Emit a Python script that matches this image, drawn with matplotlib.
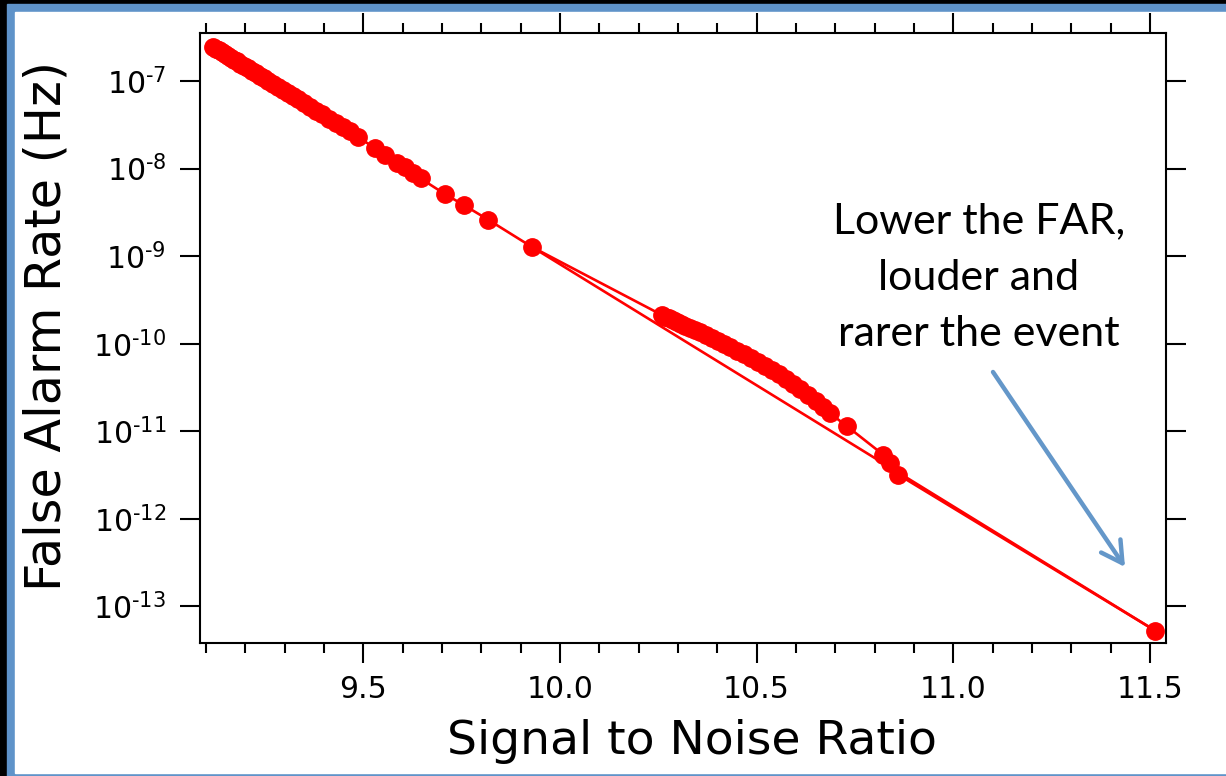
import matplotlib
matplotlib.use("Agg")
import matplotlib.pyplot as plt
from matplotlib.patches import Rectangle, FancyArrowPatch
from matplotlib.ticker import FixedLocator, MultipleLocator, NullLocator

# Signal-to-noise ratio of each trigger and its false alarm rate (Hz)
snr = [
    9.118, 9.126, 9.133, 9.141, 9.149, 9.156, 9.164, 9.172, 9.179, 9.187,
    9.197, 9.207, 9.217, 9.228, 9.238, 9.248, 9.258, 9.271, 9.284, 9.296,
    9.309, 9.322, 9.334, 9.350, 9.365, 9.380, 9.395, 9.413, 9.431, 9.449,
    9.466, 9.487, 9.530, 9.555, 9.586, 9.606, 9.626, 9.646, 9.708, 9.757,
    9.818, 9.928,
    10.259, 10.267, 10.277, 10.287, 10.298, 10.308, 10.318, 10.331, 10.343,
    10.356, 10.371, 10.387, 10.402, 10.417, 10.432, 10.450, 10.468, 10.486,
    10.503, 10.521, 10.539, 10.557, 10.575, 10.592, 10.610, 10.630, 10.651,
    10.669, 10.687, 10.729, 10.822, 10.839, 10.860, 11.513,
]
far = [
    2.47e-7, 2.34e-7, 2.24e-7, 2.13e-7, 2.02e-7, 1.93e-7, 1.84e-7, 1.75e-7, 1.67e-7, 1.58e-7,
    1.49e-7, 1.39e-7, 1.31e-7, 1.22e-7, 1.14e-7, 1.07e-7, 1.00e-7, 9.2e-8, 8.5e-8, 7.9e-8,
    7.2e-8, 6.7e-8, 6.2e-8, 5.6e-8, 5.1e-8, 4.6e-8, 4.2e-8, 3.7e-8, 3.3e-8, 2.95e-8,
    2.65e-8, 2.3e-8, 1.7e-8, 1.43e-8, 1.15e-8, 1.03e-8, 8.8e-9, 7.7e-9, 5.1e-9, 3.8e-9,
    2.6e-9, 1.28e-9,
    2.13e-10, 2.02e-10, 1.95e-10, 1.87e-10, 1.77e-10, 1.68e-10, 1.60e-10, 1.51e-10, 1.44e-10,
    1.36e-10, 1.26e-10, 1.16e-10, 1.08e-10, 9.95e-11, 9.1e-11, 8.3e-11, 7.55e-11, 6.9e-11,
    6.2e-11, 5.6e-11, 5.0e-11, 4.5e-11, 3.96e-11, 3.5e-11, 3.05e-11, 2.6e-11, 2.2e-11,
    1.9e-11, 1.6e-11, 1.15e-11, 5.4e-12, 4.3e-12, 3.2e-12, 5.3e-14,
]
# the trace also jumps straight from the last low-SNR trigger to the loudest one
link_from = 41
link_to = len(snr) - 1

x_ticks = [9.5, 10.0, 10.5, 11.0, 11.5]
x_ticklabels = ["9.5", "10.0", "10.5", "11.0", "11.5"]
y_exponents = [-7, -8, -9, -10, -11, -12, -13]

note = "Lower the FAR,\nlouder and\nrarer the event"

plt.rcParams["mathtext.default"] = "regular"
plt.rcParams["font.family"] = ["DejaVu Sans"]

W, H = 1226, 776
fig = plt.figure(figsize=(W / 100, H / 100), dpi=100, facecolor="black")

# slide frame: blue band inside a black edge, white page inside
blue = "#5f93c9"
fig.patches.append(Rectangle((7 / W, 0), (W - 7) / W, (H - 4) / H,
                             transform=fig.transFigure, color=blue, zorder=-3))
fig.patches.append(Rectangle((15 / W, 3 / H), (W - 15) / W, (H - 15) / H,
                             transform=fig.transFigure, color="white", zorder=-2))

ax = fig.add_axes([200 / W, (H - 643) / H, 966 / W, 610 / H])
ax.set_yscale("log")

ax.plot(snr, far, color="red", lw=1.9, marker="o", ms=12.5, mec="red", mfc="red",
        solid_joinstyle="round", zorder=3)
ax.plot([snr[link_from], snr[link_to]], [far[link_from], far[link_to]],
        color="red", lw=1.9, zorder=3)

ax.set_xlim(9.085, 11.541)
ax.set_ylim(10 ** -13.418, 10 ** -6.452)

ax.xaxis.set_major_locator(FixedLocator(x_ticks))
ax.set_xticklabels(x_ticklabels, fontsize=21.5)
ax.xaxis.set_minor_locator(MultipleLocator(0.1))
ax.yaxis.set_major_locator(FixedLocator([10.0 ** e for e in y_exponents]))
ax.yaxis.set_minor_locator(NullLocator())
# short hyphen in the exponent, as in the decade labels of the original axis
ax.set_yticklabels(["$10^{\u2010%d}$" % abs(e) for e in y_exponents], fontsize=21.5)

ax.tick_params(which="both", direction="out", top=True, right=True,
               width=1.5, color="black")
ax.tick_params(which="major", length=14.4)
ax.tick_params(which="minor", length=7.2)
ax.tick_params(axis="x", pad=9)
ax.tick_params(axis="y", pad=10)
for s in ax.spines.values():
    s.set_linewidth(1.5)

ax.set_xlabel("Signal to Noise Ratio", fontsize=34)
ax.xaxis.set_label_coords(0.509, -0.125)
ax.set_ylabel("False Alarm Rate (Hz)", fontsize=35.5)
ax.yaxis.set_label_coords(-0.134, 0.52)

fig.text(979 / W, 1 - 202 / H, note, ha="center", va="top", fontsize=31,
         family=["Lato", "DejaVu Sans"], linespacing=1.6, color="black")

fig.add_artist(FancyArrowPatch(
    (993, H - 372), (1125, H - 567), transform=None,
    arrowstyle="->,head_length=0.75,head_width=0.42",
    color="#6497c9", lw=3.2, mutation_scale=20, shrinkA=0, shrinkB=0))

fig.savefig("out.png", dpi=100, facecolor=fig.get_facecolor())
